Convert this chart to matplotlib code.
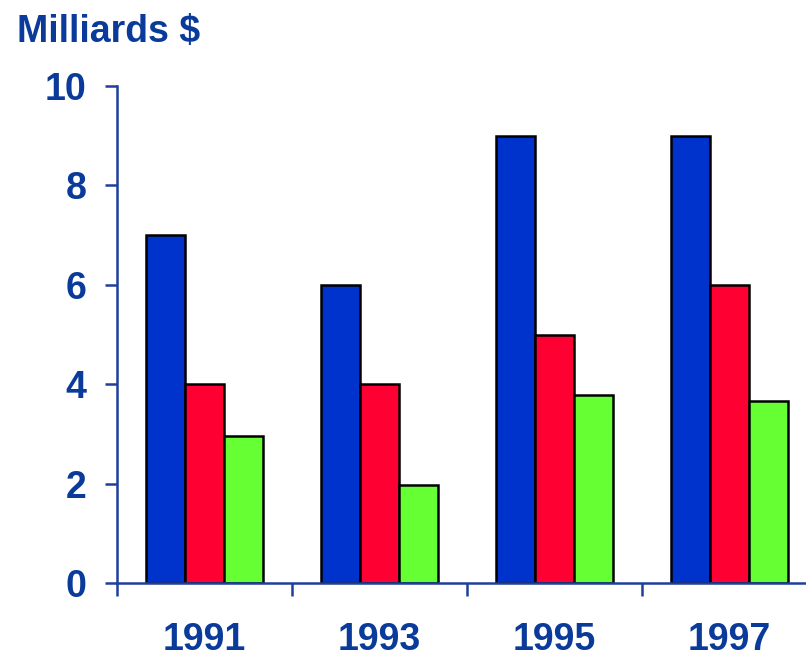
import matplotlib
matplotlib.use('Agg')
import matplotlib.pyplot as plt
import numpy as np

# ── data ─────────────────────────────────────────────
years = ['1991', '1993', '1995', '1997']
serie_bleue = [7.0, 6.0, 9.0, 9.0]
serie_rouge = [4.0, 4.0, 5.0, 6.0]
serie_verte = [2.95, 1.97, 3.78, 3.66]
y_ticks = [0, 2, 4, 6, 8, 10]

# ── style ────────────────────────────────────────────
TXT = '#0A3A9A'
AXC = '#1F3F9A'
COLORS = ['#0033CC', '#FF0033', '#66FF33']
FS = 27
plt.rcParams['font.family'] = ['Liberation Sans', 'DejaVu Sans']

W, H = 806, 654
fig = plt.figure(figsize=(W / 100, H / 100), dpi=100)
fig.patch.set_facecolor('white')

# axes box in pixels: x from 117 to 817 (cut at image edge), y from 86 to 583
left, right, top, bottom = 117, 817, 86, 583
ax = fig.add_axes([left / W, (H - bottom) / H, (right - left) / W, (bottom - top) / H])

x = np.arange(len(years))
bw = 0.223
for off, vals, c in zip((-bw, 0, bw), (serie_bleue, serie_rouge, serie_verte), COLORS):
    ax.bar(x + off, vals, width=bw, color=c, edgecolor='black', linewidth=1.8, zorder=3)

ax.set_xlim(-0.5, len(years) - 0.5)
ax.set_ylim(0, 10)

for s in ('top', 'right'):
    ax.spines[s].set_visible(False)
for s in ('left', 'bottom'):
    ax.spines[s].set_color(AXC)
    ax.spines[s].set_linewidth(1.8)
    ax.spines[s].set_zorder(4)

ax.set_yticks(y_ticks)
ax.set_yticklabels([str(v) for v in y_ticks])
ax.tick_params(axis='y', direction='out', length=9, width=1.8, color=AXC,
               labelsize=FS, labelcolor=TXT, pad=13)
for lab in ax.get_yticklabels():
    lab.set_fontweight('bold')

# category labels at group centres, tick marks at group boundaries
ax.set_xticks(x)
ax.set_xticklabels(years)
ax.tick_params(axis='x', which='major', length=0, labelsize=FS, labelcolor=TXT, pad=28)
for lab in ax.get_xticklabels():
    lab.set_fontweight('bold')
ax.set_xticks(np.arange(-0.5, len(years), 1.0), minor=True)
ax.tick_params(axis='x', which='minor', direction='out', length=9, width=1.8, color=AXC)

fig.text(17 / W, 1 - 42 / H, 'Milliards $', fontsize=FS, fontweight='bold',
         color=TXT, ha='left', va='baseline')

fig.savefig('out.png', dpi=100, facecolor='white')
